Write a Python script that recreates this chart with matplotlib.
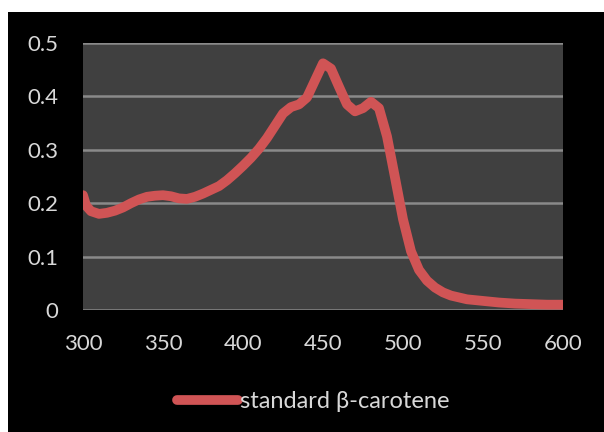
import matplotlib
matplotlib.use("Agg")
import matplotlib.pyplot as plt
from matplotlib.patches import Rectangle

wavelength = [300, 302, 305, 310, 315, 320, 325, 330, 335, 340, 345, 350, 355, 360,
              365, 370, 375, 380, 385, 390, 395, 400, 405, 410, 415, 420, 425, 430,
              435, 440, 445, 450, 455, 460, 465, 470, 475, 480, 485, 490, 495, 500,
              505, 510, 515, 520, 525, 530, 540, 550, 560, 570, 580, 590, 600]
absorbance = [0.215, 0.195, 0.185, 0.18, 0.182, 0.186, 0.192, 0.2, 0.207, 0.212, 0.214,
              0.215, 0.213, 0.209, 0.208, 0.212, 0.218, 0.225, 0.232, 0.243, 0.256,
              0.27, 0.285, 0.302, 0.322, 0.345, 0.368, 0.38, 0.385, 0.398, 0.43, 0.462,
              0.452, 0.418, 0.385, 0.372, 0.378, 0.39, 0.378, 0.325, 0.248, 0.17, 0.11,
              0.075, 0.055, 0.042, 0.033, 0.027, 0.02, 0.017, 0.014, 0.012, 0.011,
              0.01, 0.01]
series_name = "standard β-carotene"
x_ticks = [300, 350, 400, 450, 500, 550, 600]
y_ticks = [0, 0.1, 0.2, 0.3, 0.4, 0.5]
y_ticklabels = ["0", "0.1", "0.2", "0.3", "0.4", "0.5"]

plt.rcParams['font.family'] = ['Lato', 'DejaVu Sans']
txt = '#d8d8d8'
red = '#d05455'

fig = plt.figure(figsize=(6.04, 4.32), dpi=100, facecolor='white')
bg = Rectangle((8/604, 0), 1, 1 - 12/432, transform=fig.transFigure,
               facecolor='black', edgecolor='none', zorder=-10)
fig.add_artist(bg)
ax = fig.add_axes([83/604, 1 - 310/432, 480/604, 267/432])
ax.set_facecolor('#404040')
ax.plot(wavelength, absorbance, color=red, lw=7, solid_capstyle='round',
        solid_joinstyle='round', label=series_name, zorder=3)
ax.set_xlim(300, 600)
ax.set_ylim(0, 0.5)
ax.set_xticks(x_ticks)
ax.set_xticklabels([str(t) for t in x_ticks])
ax.set_yticks(y_ticks)
ax.set_yticklabels(y_ticklabels)
ax.yaxis.grid(True, color='#8a8a8a', lw=1.8)
ax.set_axisbelow(True)
for s in ax.spines.values():
    s.set_visible(False)
ax.tick_params(axis='both', length=0, colors=txt, labelsize=16)
ax.tick_params(axis='x', pad=17)
ax.tick_params(axis='y', pad=18)

leg = fig.legend(loc='center', bbox_to_anchor=(313/604, 1 - 402/432), frameon=False,
                 fontsize=17, handlelength=2.6, handletextpad=0.05, labelcolor=txt)
for h in leg.legend_handles:
    h.set_linewidth(7)

fig.savefig('out.png', dpi=100, facecolor='white')
